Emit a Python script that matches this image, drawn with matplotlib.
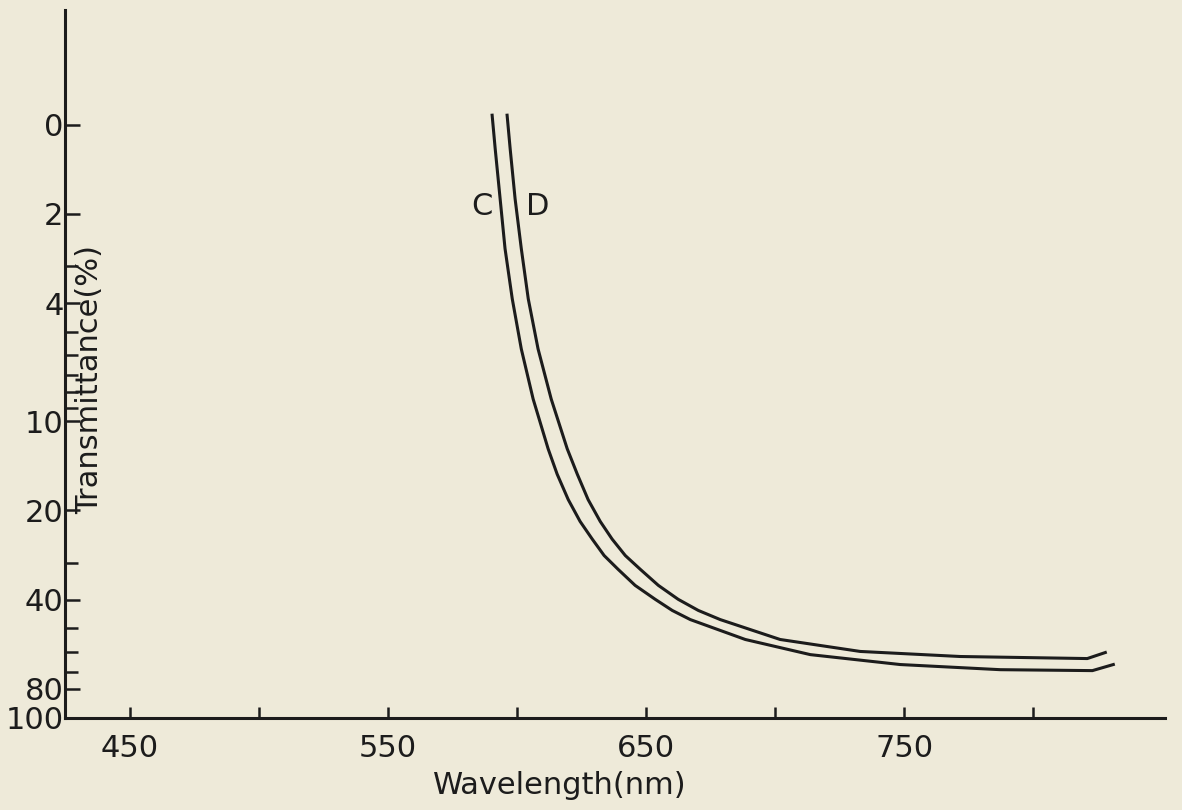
import matplotlib.pyplot as plt
import numpy as np

# curve C (left, lower) and D (right, upper): wavelength (nm) vs transmittance (%)
wl_c = [590.3, 591.5, 593.4, 595.3, 598.1, 601.6, 606.2, 612.0, 615.5, 619.8,
        624.4, 629.1, 633.7, 639.1, 645.7, 653.5, 660.1, 667.1, 688.4, 713.6,
        748.4, 787.2, 822.9, 831.0]
t_c = [0.93, 1.21, 1.78, 2.62, 3.87, 5.71, 8.43, 12.4, 15.1, 18.4,
       21.8, 25.0, 28.4, 31.6, 35.8, 39.9, 43.5, 46.7, 54.5, 61.3,
       66.2, 68.9, 69.4, 66.2]

wl_d = [596.1, 597.3, 599.2, 601.6, 604.3, 608.1, 613.2, 619.4, 623.3, 627.5,
        632.2, 636.8, 641.9, 647.7, 654.7, 662.4, 670.2, 678.7, 701.9, 732.9,
        771.7, 820.9, 827.9]
t_d = [0.93, 1.21, 1.78, 2.62, 3.87, 5.71, 8.43, 12.4, 15.1, 18.4,
       21.8, 25.0, 28.4, 31.6, 35.8, 39.9, 43.5, 46.7, 54.5, 59.8,
       62.2, 63.2, 60.3]

ytick_vals = [1, 2, 4, 10, 20, 40, 80, 100]
ytick_labels = ["0", "2", "4", "10", "20", "40", "80", "100"]
yminor_vals = [3, 5, 6, 7, 8, 9, 30, 50, 60, 70]
xtick_vals = [450, 550, 650, 750]
xminor_vals = [500, 600, 700, 800]

bg = "#eeead9"
ink = "#1c1c1c"

plt.rcParams['font.family'] = ['DejaVu Sans']
fig = plt.figure(figsize=(11.82, 8.10), dpi=100, facecolor=bg)
ax = fig.add_axes([0.055, 0.114, 0.931, 0.874], facecolor=bg)

ax.plot(wl_c, t_c, color=ink, lw=2.2)
ax.plot(wl_d, t_d, color=ink, lw=2.2)

ax.set_yscale('log')
ax.set_ylim(100, 0.41)
ax.set_xlim(424.8, 851.2)

ax.set_yticks(ytick_vals)
ax.set_yticklabels(ytick_labels)
ax.set_yticks(yminor_vals, minor=True)
ax.yaxis.set_minor_formatter(plt.NullFormatter())
ax.set_xticks(xtick_vals)
ax.set_xticks(xminor_vals, minor=True)

for s in ['top', 'right']:
    ax.spines[s].set_visible(False)
for s in ['left', 'bottom']:
    ax.spines[s].set_linewidth(2.2)
    ax.spines[s].set_color(ink)

ax.tick_params(axis='both', which='both', direction='in', color=ink,
               width=1.8, labelsize=22, labelcolor=ink)
ax.tick_params(axis='y', which='major', length=11, pad=1)
ax.tick_params(axis='y', which='minor', length=9)
ax.tick_params(axis='x', which='both', length=8, pad=12)

ax.set_xlabel("Wavelength(nm)", fontsize=22, color=ink)
ax.xaxis.set_label_coords(0.45, -0.075)
ax.text(0.022, 0.477, "Transmittance(%)", transform=ax.transAxes, rotation=90,
        ha='center', va='center', fontsize=22, color=ink)

ax.text(586.4, 1.89, "C", fontsize=22, color=ink, ha='center', va='center')
ax.text(608.1, 1.89, "D", fontsize=22, color=ink, ha='center', va='center')

fig.savefig("out.png", dpi=100, facecolor=bg)
